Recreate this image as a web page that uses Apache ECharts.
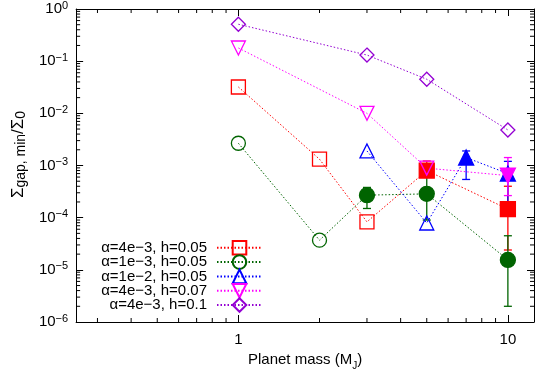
<!DOCTYPE html>
<html>
<head>
<meta charset="utf-8">
<script src="https://cdn.jsdelivr.net/npm/echarts@6/dist/echarts.min.js"></script>
<style>
html, body { margin: 0; padding: 0; background: #fff; }
#chart { width: 539px; height: 380px; }
</style>
</head>
<body>
<div id="chart"></div>
<script>
const FONT = '"Liberation Sans", Arial, sans-serif';

const legendNames = ['α=4e−3, h=0.05', 'α=1e−3, h=0.05', 'α=1e−2, h=0.05', 'α=4e−3, h=0.07', 'α=4e−3, h=0.1'];
const colors = ['#ff0000', '#006400', '#0000ff', '#ff00ff', '#9400d3'];

// planet mass (M_J) and Sigma_gap,min / Sigma_0, filled = points with error bars
const redMass = [1, 2, 3, 5, 10];
const redSigma = [0.032, 1.32e-3, 8.3e-5, 8.0e-4, 1.46e-4];
const redFilled = [0, 0, 0, 1, 1];
const redErrLow = [null, null, null, 6.0e-4, 2.4e-5];
const redErrHigh = [null, null, null, 1.22e-3, 4.0e-4];

const greenMass = [1, 2, 3, 5, 10];
const greenSigma = [2.67e-3, 3.7e-5, 2.7e-4, 2.86e-4, 1.55e-5];
const greenFilled = [0, 0, 1, 1, 1];
const greenErrLow = [null, null, 1.5e-4, 9.0e-5, 2.0e-6];
const greenErrHigh = [null, null, 3.8e-4, 6.4e-4, 4.5e-5];

const blueMass = [3, 5, 7, 10];
const blueSigma = [1.9e-3, 7.9e-5, 1.42e-3, 7.0e-4];
const blueFilled = [0, 0, 1, 1];
const blueErrLow = [null, null, 5.4e-4, 1.17e-4];
const blueErrHigh = [null, null, 1.9e-3, 1.2e-3];

const magentaMass = [1, 3, 5, 10];
const magentaSigma = [0.179, 0.010, 8.9e-4, 6.4e-4];
const magentaFilled = [0, 0, 0, 1];
const magentaErrLow = [null, null, null, 2.65e-4];
const magentaErrHigh = [null, null, null, 1.42e-3];

const purpleMass = [1, 3, 5, 10];
const purpleSigma = [0.51, 0.131, 0.045, 4.8e-3];
const purpleFilled = [0, 0, 0, 0];
const purpleErrLow = [null, null, null, null];
const purpleErrHigh = [null, null, null, null];

const xMinorTicks = [0.3, 0.4, 0.5, 0.6, 0.7, 0.8, 0.9, 2, 3, 4, 5, 6, 7, 8, 9];
const yMinorTicks = [];
[1e-6, 1e-5, 1e-4, 1e-3, 1e-2, 1e-1].forEach(function (d) {
  for (let k = 2; k <= 9; k++) yMinorTicks.push(d * k);
});

const chart = echarts.init(document.getElementById('chart'));

function isPow10(v) {
  const e = Math.log10(v);
  return Math.abs(e - Math.round(e)) < 1e-6;
}

function lineSeries(i, mass, sigma, filled, symbol, rotate) {
  return {
    name: legendNames[i],
    type: 'line',
    xAxisIndex: 0, yAxisIndex: 0,
    symbol: symbol,
    symbolRotate: rotate || 0,
    symbolSize: 14,
    showAllSymbol: true,
    lineStyle: { color: colors[i], width: 1, type: [1.5, 2] },
    itemStyle: { color: 'rgba(0,0,0,0)', borderColor: colors[i], borderWidth: 1.3 },
    emphasis: { disabled: true },
    data: mass.map(function (m, j) {
      if (filled[j]) {
        return { value: [m, sigma[j]], symbolSize: 15, itemStyle: { color: colors[i], borderColor: colors[i] } };
      }
      return [m, sigma[j]];
    })
  };
}

function errorSeries(i, mass, low, high) {
  const data = [];
  mass.forEach(function (m, j) {
    if (low[j] != null) data.push([m, low[j], high[j]]);
  });
  return {
    type: 'custom',
    xAxisIndex: 0, yAxisIndex: 0,
    encode: { x: 0, y: [1, 2] },
    silent: true,
    data: data,
    renderItem: function (params, api) {
      const lo = api.coord([api.value(0), api.value(1)]);
      const hi = api.coord([api.value(0), api.value(2)]);
      const w = 4;
      const st = { stroke: colors[i], lineWidth: 1.3 };
      return {
        type: 'group',
        children: [
          { type: 'line', shape: { x1: lo[0], y1: lo[1], x2: hi[0], y2: hi[1] }, style: st },
          { type: 'line', shape: { x1: lo[0] - w, y1: lo[1], x2: lo[0] + w, y2: lo[1] }, style: st },
          { type: 'line', shape: { x1: hi[0] - w, y1: hi[1], x2: hi[0] + w, y2: hi[1] }, style: st }
        ]
      };
    }
  };
}

function minorTickSeries(dir) {
  const vals = dir === 'x' ? xMinorTicks : yMinorTicks;
  return {
    type: 'custom',
    xAxisIndex: 0, yAxisIndex: 0,
    silent: true,
    z: 1,
    data: vals.map(function (v) { return dir === 'x' ? [v, 1e-3] : [1, v]; }),
    renderItem: function (params, api) {
      const cs = params.coordSys;
      const p = api.coord([api.value(0), api.value(1)]);
      const len = 4;
      const st = { stroke: '#000', lineWidth: 1 };
      if (dir === 'x') {
        return { type: 'group', children: [
          { type: 'line', shape: { x1: p[0], y1: cs.y + cs.height, x2: p[0], y2: cs.y + cs.height - len }, style: st },
          { type: 'line', shape: { x1: p[0], y1: cs.y, x2: p[0], y2: cs.y + len }, style: st }
        ] };
      }
      return { type: 'group', children: [
        { type: 'line', shape: { x1: cs.x, y1: p[1], x2: cs.x + len, y2: p[1] }, style: st },
        { type: 'line', shape: { x1: cs.x + cs.width, y1: p[1], x2: cs.x + cs.width - len, y2: p[1] }, style: st }
      ] };
    }
  };
}

const axisCommon = {
  type: 'log',
  logBase: 10,
  axisLine: { show: true, lineStyle: { color: '#000', width: 1 } },
  axisTick: { show: true, inside: true, length: 7, lineStyle: { color: '#000' } },
  splitLine: { show: false },
  minorTick: { show: false }
};

chart.setOption({
  animation: false,
  backgroundColor: '#fff',
  textStyle: { fontFamily: FONT },
  grid: { left: 69, right: 5, top: 9, bottom: 58 },
  legend: {
    data: legendNames,
    orient: 'vertical',
    align: 'right',
    right: 271,
    top: 235,
    itemWidth: 45,
    itemHeight: 17,
    itemGap: -1.3,
    selectedMode: false,
    textStyle: { fontSize: 15, color: '#000', fontFamily: FONT, padding: [0, 5, 0, 0] }
  },
  xAxis: [
    Object.assign({}, axisCommon, {
      position: 'bottom',
      min: 0.25, max: 12.5,
      name: 'Planet mass (M{sub|J})',
      nameLocation: 'middle',
      nameGap: 25,
      nameTextStyle: {
        fontSize: 15, color: '#000', fontFamily: FONT,
        rich: { sub: { fontSize: 10, verticalAlign: 'bottom', lineHeight: 10, fontFamily: FONT, padding: [0, 0, -4, 0] } }
      },
      axisLabel: {
        fontSize: 15, color: '#000', fontFamily: FONT, margin: 10,
        formatter: function (v) { return isPow10(v) ? String(Math.round(v)) : ''; }
      }
    }),
    Object.assign({}, axisCommon, {
      position: 'top',
      min: 0.25, max: 12.5,
      axisLabel: { show: false }
    })
  ],
  yAxis: [
    Object.assign({}, axisCommon, {
      position: 'left',
      min: 1e-6, max: 1,
      splitNumber: 6,
      name: 'Σ{sub|gap, min}/Σ{sub|0}',
      nameLocation: 'middle',
      nameRotate: 90,
      nameGap: 40,
      nameTextStyle: {
        fontSize: 17, color: '#000', fontFamily: FONT, lineHeight: 20,
        padding: [0, 0, 0, 22],
        rich: { sub: { fontSize: 14, verticalAlign: 'bottom', lineHeight: 13, fontFamily: FONT } }
      },
      axisLabel: {
        fontSize: 15, color: '#000', fontFamily: FONT, margin: 8, lineHeight: 18,
        formatter: function (v) {
          if (!isPow10(v)) return '';
          const e = Math.round(Math.log10(v));
          return '10{sup|' + String(e).replace('-', '−') + '}';
        },
        rich: { sup: { fontSize: 11, verticalAlign: 'top', lineHeight: 11, fontFamily: FONT, color: '#000' } }
      }
    }),
    Object.assign({}, axisCommon, {
      position: 'right',
      min: 1e-6, max: 1,
      splitNumber: 6,
      axisLabel: { show: false }
    })
  ],
  series: [
    minorTickSeries('x'),
    minorTickSeries('y'),
    lineSeries(0, redMass, redSigma, redFilled, 'rect'),
    errorSeries(0, redMass, redErrLow, redErrHigh),
    lineSeries(1, greenMass, greenSigma, greenFilled, 'circle'),
    errorSeries(1, greenMass, greenErrLow, greenErrHigh),
    lineSeries(2, blueMass, blueSigma, blueFilled, 'triangle'),
    errorSeries(2, blueMass, blueErrLow, blueErrHigh),
    lineSeries(3, magentaMass, magentaSigma, magentaFilled, 'triangle', 180),
    errorSeries(3, magentaMass, magentaErrLow, magentaErrHigh),
    lineSeries(4, purpleMass, purpleSigma, purpleFilled, 'diamond'),
    errorSeries(4, purpleMass, purpleErrLow, purpleErrHigh)
  ]
});
</script>
</body>
</html>
